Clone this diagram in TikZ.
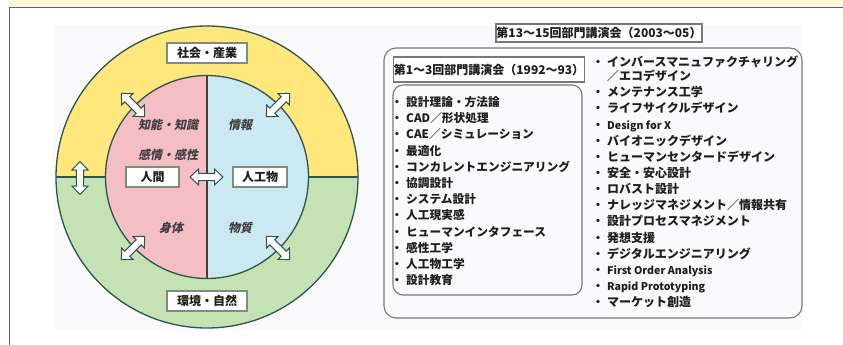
\documentclass[tikz,border=0pt]{standalone}
\usepackage{fontspec}
\newfontfamily\jp{Noto Sans CJK JP}
\newfontfamily\jpsl{Noto Sans CJK JP}[FakeSlant=0.22]
\newcommand\latn[1]{{\fontsize{10.6}{12}\selectfont #1}}
\definecolor{bandY}{RGB}{255,248,214}
\definecolor{frameB}{RGB}{88,88,172}
\definecolor{backdrop}{RGB}{250,250,252}
\definecolor{ringY}{RGB}{255,231,125}
\definecolor{ringG}{RGB}{197,226,180}
\definecolor{inP}{RGB}{245,190,197}
\definecolor{inB}{RGB}{204,232,240}
\definecolor{edge}{RGB}{45,85,75}
\definecolor{divl}{RGB}{70,60,60}
\definecolor{ink}{RGB}{30,30,30}
\definecolor{boxline}{RGB}{120,120,120}
\definecolor{lblline}{RGB}{125,140,125}
\tikzset{
  ringline/.style={draw=edge, line width=1.3pt},
  lbl/.style={draw=lblline, line width=1.3pt, fill=white, text=ink, inner sep=0pt,
    minimum height=20pt, font=\jp\bfseries\fontsize{12}{14}\selectfont},
  itl/.style={text=ink!85, inner sep=0pt, font=\jpsl\bfseries\fontsize{12}{14}\selectfont},
  hollow/.style={draw=edge, line width=1pt, fill=white, line join=miter},
  dbl/.pic={\path[hollow] (-16.5,0) -- (-8,-8) -- (-8,-3.6) -- (8,-3.6) -- (8,-8) -- (16.5,0)
      -- (8,8) -- (8,3.6) -- (-8,3.6) -- (-8,8) -- cycle;},
  lstL/.style={anchor=base west, inner sep=0pt, text=ink, font=\jp\bfseries\fontsize{11.7}{14}\selectfont},
  lstR/.style={anchor=base west, inner sep=0pt, text=ink, font=\jp\bfseries\fontsize{12}{14}\selectfont},
  ttl/.style={draw=boxline, line width=1.1pt, fill=white, text=ink, inner sep=0pt,
    font=\jp\bfseries\fontsize{12}{14}\selectfont},
  listbox/.style={draw=boxline, line width=1.1pt, inner sep=0pt}
}
\newcommand\itm[1]{\makebox[15pt][l]{・}#1}
\begin{document}
\begin{tikzpicture}[x=1pt,y=-1pt]
\useasboundingbox (0,0) rectangle (843,345);
% page frame
\fill[bandY] (9,0) rectangle (843,7);
\draw[frameB, line width=1pt] (9.5,345) -- (9.5,7.5) -- (843,7.5);
\fill[backdrop] (54,25) rectangle (803,330);

% ---- circle diagram ----
\coordinate (c) at (207,177);
\fill[ringG] (c) circle[radius=151];
\begin{scope}
  \clip (0,0) rectangle (843,177);
  \fill[ringY] (c) circle[radius=151];
\end{scope}
\draw[ringline] (c) circle[radius=151];
\draw[ringline] (56,177) -- (358,177);
\fill[inB] (c) circle[radius=101.5];
\begin{scope}
  \clip (0,0) rectangle (207,345);
  \fill[inP] (c) circle[radius=101.5];
\end{scope}
\draw[draw=divl, line width=1.2pt] (207,75.5) -- (207,278.5);
\draw[ringline] (c) circle[radius=101.5];

\node[lbl, minimum width=80pt] (soc) at (207,53) {社会・産業};
\node[lbl, minimum width=80pt] (env) at (207,301) {環境・自然};
\node[lbl, minimum width=53pt] (hum) at (152.5,177) {人間};
\node[lbl, minimum width=54pt] (art) at (260,177) {人工物};

\node[itl] (chi) at (168,125) {知能・知識};
\node[itl] (kan) at (168,155) {感情・感性};
\node[itl] (shi) at (171,228) {身体};
\node[itl] (joh) at (240,125) {情報};
\node[itl] (bus) at (240,228) {物質};

\pic (aC) at (206.5,177) {dbl};
\pic[rotate=90] (aL) at (80,178) {dbl};
\pic[rotate=-45] (aUL) at (133,105) {dbl};
\pic[rotate=45] (aUR) at (278,105) {dbl};
\pic[rotate=45] (aLL) at (133,248) {dbl};
\pic[rotate=-45] (aLR) at (278,248) {dbl};

% ---- lists ----
\node[listbox, rounded corners=12pt, minimum width=418pt, minimum height=270pt] (outer) at (593,183) {};
\node[ttl, minimum width=206pt, minimum height=18pt] (t2) at (599,33) {第13～15回部門講演会（2003～05）};
\node[listbox, rounded corners=10pt, minimum width=189pt, minimum height=210pt] (inner) at (487.5,190) {};
\node[ttl, minimum width=188pt, minimum height=25pt] (t1) at (489,69.5) {第1～3回部門講演会（1992～93）};

\foreach \t [count=\i from 0] in {設計理論・方法論, CAD／形状処理, CAE／シミュレーション, 最適化,
  コンカレントエンジニアリング, 協調設計, システム設計, 人工現実感,
  ヒューマンインタフェース, 感性工学, 人工物工学, 設計教育}
  \node[lstL] (L\i) at (391,106.4+16.2*\i) {\itm{\t}};

\node[lstR] (R0) at (592,66.6) {\itm{インバースマニュファクチャリング}};
\node[lstR] (R1) at (592,80.6) {\hspace{15pt}／エコデザイン};
\foreach \t [count=\i from 2] in {メンテナンス工学, ライフサイクルデザイン, \latn{Design for X},
  バイオニックデザイン, ヒューマンセンタードデザイン, 安全・安心設計, ロバスト設計,
  ナレッジマネジメント／情報共有, 設計プロセスマネジメント, 発想支援,
  デジタルエンジニアリング, \latn{First Order Analysis}, \latn{Rapid Prototyping}, マーケット創造}
  \node[lstR] (R\i) at (592,80.6+16.14*\i-16.14) {\itm{\t}};
\end{tikzpicture}
\end{document}
